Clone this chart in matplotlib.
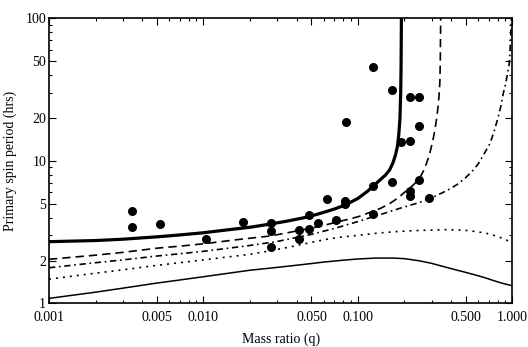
import numpy as np
import matplotlib
matplotlib.use("Agg")
import matplotlib.pyplot as plt
from matplotlib.ticker import FixedLocator, FixedFormatter, NullFormatter

# observed binaries: mass ratio vs primary spin period
q_obs = [0.00343, 0.00343, 0.00521, 0.01035, 0.01805, 0.0274, 0.0274, 0.0274,
         0.0416, 0.0416, 0.0479, 0.0479, 0.0550, 0.0629, 0.0722, 0.0826,
         0.0826, 0.0831, 0.1254, 0.1254, 0.1254, 0.166, 0.166, 0.190,
         0.217, 0.217, 0.217, 0.217, 0.249, 0.249, 0.249, 0.288]
p_obs = [4.44, 3.43, 3.60, 2.83, 3.72, 3.68, 3.20, 2.50,
         3.27, 2.81, 4.14, 3.31, 3.68, 5.39, 3.86, 5.25,
         4.97, 18.8, 45.2, 6.68, 4.25, 31.1, 7.13, 13.5,
         27.9, 13.8, 6.13, 5.63, 27.9, 17.6, 7.33, 5.45]

# curves
q_thick = [0.001, 0.002, 0.003, 0.005, 0.007, 0.01, 0.015, 0.02, 0.027, 0.035,
           0.048, 0.06, 0.07, 0.083, 0.1, 0.115, 0.125, 0.14, 0.15, 0.16,
           0.168, 0.175, 0.18, 0.184, 0.187, 0.189, 0.190, 0.1905, 0.191]
p_thick = [2.71, 2.76, 2.82, 2.93, 3.02, 3.13, 3.3, 3.42, 3.6, 3.78,
           4.05, 4.35, 4.58, 4.9, 5.45, 6.1, 6.6, 7.4, 7.9, 8.6,
           9.6, 11.0, 12.6, 15.5, 20, 30, 45, 65, 100]

q_dash = [0.001, 0.002, 0.003, 0.005, 0.007, 0.01, 0.017, 0.027, 0.035, 0.045,
          0.06, 0.07, 0.085, 0.1, 0.12, 0.14, 0.16, 0.18, 0.2, 0.228,
          0.25, 0.27, 0.29, 0.305, 0.315, 0.323, 0.33, 0.335, 0.339, 0.341,
          0.342, 0.343]
p_dash = [2.04, 2.18, 2.28, 2.44, 2.52, 2.62, 2.81, 2.97, 3.13, 3.3,
          3.52, 3.68, 3.87, 4.05, 4.35, 4.64, 5.0, 5.45, 6.0, 6.76,
          7.5, 8.8, 11.0, 13.8, 16.5, 19.8, 24, 29, 36, 50,
          70, 100]

q_dashdot = [0.001, 0.002, 0.003, 0.005, 0.007, 0.01, 0.015, 0.02, 0.03, 0.04,
             0.05, 0.07, 0.1, 0.125, 0.15, 0.17, 0.2, 0.25, 0.3, 0.35,
             0.4, 0.45, 0.5, 0.557, 0.6, 0.65, 0.715, 0.76, 0.809, 0.84,
             0.872, 0.9, 0.93, 0.953, 0.965, 0.975, 0.983]
p_dashdot = [1.78, 1.93, 2.02, 2.15, 2.23, 2.32, 2.45, 2.55, 2.72, 2.9,
             3.05, 3.35, 3.75, 4.05, 4.3, 4.5, 4.75, 5.1, 5.5, 5.95,
             6.4, 6.95, 7.65, 8.6, 9.5, 11.0, 13.2, 16.0, 20.3, 24,
             29.7, 34, 41, 48, 60, 78, 100]

q_dot = [0.001, 0.002, 0.003, 0.005, 0.007, 0.01, 0.015, 0.02, 0.027, 0.035,
         0.05, 0.063, 0.08, 0.1, 0.13, 0.17, 0.22, 0.3, 0.375, 0.45,
         0.5, 0.58, 0.68, 0.78, 0.87, 1.0]
p_dot = [1.48, 1.63, 1.72, 1.85, 1.93, 2.02, 2.13, 2.21, 2.34, 2.47,
         2.68, 2.82, 2.93, 3.0, 3.1, 3.18, 3.23, 3.27, 3.29, 3.27,
         3.25, 3.19, 3.1, 2.97, 2.85, 2.66]

q_thin = [0.001, 0.002, 0.003, 0.005, 0.007, 0.01, 0.02, 0.03, 0.045, 0.06,
          0.08, 0.1, 0.13, 0.17, 0.2, 0.25, 0.3, 0.36, 0.43, 0.5,
          0.58, 0.67, 0.75, 0.85, 1.0]
p_thin = [1.086, 1.2, 1.28, 1.39, 1.46, 1.54, 1.71, 1.79, 1.88, 1.95,
          2.01, 2.05, 2.08, 2.08, 2.06, 1.99, 1.91, 1.81, 1.72, 1.65,
          1.58, 1.51, 1.45, 1.39, 1.33]

x_ticks = [0.001, 0.005, 0.010, 0.050, 0.100, 0.500, 1.000]
x_labels = ["0.001", "0.005", "0.010", "0.050", "0.100", "0.500", "1.000"]
y_ticks = [1, 2, 5, 10, 20, 50, 100]
y_labels = ["1", "2", "5", "10", "20", "50", "100"]


def main():
    plt.rcParams['font.family'] = ['Liberation Serif', 'DejaVu Serif']
    plt.rcParams['font.size'] = 10

    fig = plt.figure(figsize=(5.28, 3.47), dpi=100)
    ax = fig.add_axes([0.0928, 0.1254, 0.8778, 0.8228])

    ax.plot(q_thin, p_thin, color='black', lw=1.1)
    ax.plot(q_dot, p_dot, color='black', lw=1.2, linestyle=(0, (1.2, 3.0)))
    ax.plot(q_dashdot, p_dashdot, color='black', lw=1.2,
            linestyle=(0, (3.8, 2.2, 1.0, 2.2)))
    ax.plot(q_dash, p_dash, color='black', lw=1.2, linestyle=(0, (5, 3)))
    ax.plot(q_thick, p_thick, color='black', lw=2.3)
    ax.scatter(q_obs, p_obs, s=30, color='black', zorder=5, clip_on=False)

    ax.set_xscale('log')
    ax.set_yscale('log')
    ax.set_xlim(0.001, 1.0)
    ax.set_ylim(1, 100)

    ax.xaxis.set_major_locator(FixedLocator(x_ticks))
    ax.xaxis.set_major_formatter(FixedFormatter(x_labels))
    x_minor = [m * d for d in [0.001, 0.01, 0.1] for m in [2, 3, 4, 6, 7, 8, 9]]
    ax.xaxis.set_minor_locator(FixedLocator(x_minor))
    ax.xaxis.set_minor_formatter(NullFormatter())

    ax.yaxis.set_major_locator(FixedLocator(y_ticks))
    ax.yaxis.set_major_formatter(FixedFormatter(y_labels))
    y_minor = [m * d for d in [1, 10] for m in [3, 4, 6, 7, 8, 9]]
    ax.yaxis.set_minor_locator(FixedLocator(y_minor))
    ax.yaxis.set_minor_formatter(NullFormatter())

    ax.tick_params(which='both', direction='in', top=True, right=True,
                   width=0.8, labelsize=10)
    ax.tick_params(axis='x', pad=5.5)
    ax.tick_params(axis='y', pad=2)
    ax.tick_params(which='major', length=5)
    ax.tick_params(which='minor', length=2.5)
    for s in ax.spines.values():
        s.set_linewidth(1.2)

    ax.set_xlabel("Mass ratio (q)", fontsize=10, labelpad=6)
    ax.set_ylabel("Primary spin period (hrs)", fontsize=10, labelpad=6)

    fig.savefig("out.png", dpi=100)


if __name__ == "__main__":
    main()
